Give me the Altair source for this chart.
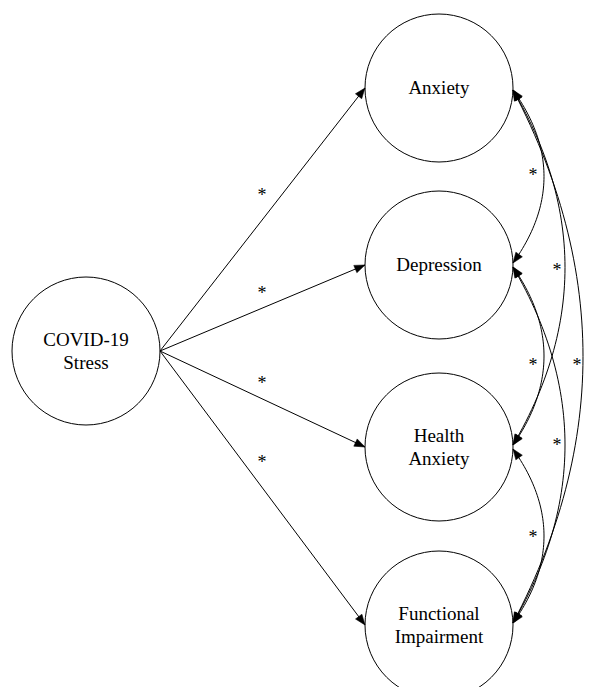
import math
import altair as alt
import pandas as pd

# ---- diagram content ----
source_label = ["COVID-19", "Stress"]
source_pos = (86, 351)
outcome_labels = [["Anxiety"], ["Depression"], ["Health", "Anxiety"], ["Functional", "Impairment"]]
outcome_x = 439
outcome_y = [88, 265, 447, 625]
node_radius = 74

# regression path significance markers
path_star_text = ["*", "*", "*", "*"]
path_star_x = [262, 262, 262, 262]
path_star_y = [193, 291, 381, 460]

# covariances: (from, to, curve apex x, star x, star y)
cov_from = [0, 1, 2, 0, 1, 0]
cov_to = [1, 2, 3, 2, 3, 3]
cov_apex = [544, 544, 544, 565, 565, 583]
cov_star_x = [533, 533, 533, 557, 557, 577]
cov_star_y = [173, 363, 535, 268, 443, 363]

FONT = "Liberation Serif"
LINE_H = 23
XDOM = [8, 584]
YDOM = [8, 687]

# ---- build tables ----
node_x = [source_pos[0]] + [outcome_x] * 4
node_y = [source_pos[1]] + outcome_y
node_lbl = [source_label] + outcome_labels
nodes = pd.DataFrame({"x": node_x, "y": node_y})

text_rows = []
for x, y, parts in zip(node_x, node_y, node_lbl):
    n = len(parts)
    for i, p in enumerate(parts):
        text_rows.append({"x": x, "y": y + (i - (n - 1) / 2) * LINE_H, "label": p})
texts = pd.DataFrame(text_rows)

lines = []
heads = []

def head_angle(dx, dy):
    return math.degrees(math.atan2(dx, -dy)) % 360

sx = source_pos[0] + node_radius
sy = source_pos[1]
tx = outcome_x - node_radius
for i, cy in enumerate(outcome_y):
    lines.append({"id": f"p{i}", "o": 0, "x": sx, "y": sy})
    lines.append({"id": f"p{i}", "o": 1, "x": tx, "y": cy})
    heads.append({"x": tx, "y": cy, "ang": head_angle(tx - sx, cy - sy)})

rx = outcome_x + node_radius
for k, (a, b, apex) in enumerate(zip(cov_from, cov_to, cov_apex)):
    y0 = outcome_y[a] + 2
    y2 = outcome_y[b] - 2
    cxp = 2 * apex - rx
    cyp = (y0 + y2) / 2
    n = 60
    for j in range(n + 1):
        t = j / n
        x = (1 - t) ** 2 * rx + 2 * t * (1 - t) * cxp + t ** 2 * rx
        y = (1 - t) ** 2 * y0 + 2 * t * (1 - t) * cyp + t ** 2 * y2
        lines.append({"id": f"c{k}", "o": j, "x": x, "y": y})
    heads.append({"x": rx, "y": y0, "ang": head_angle(rx - cxp, y0 - cyp)})
    heads.append({"x": rx, "y": y2, "ang": head_angle(rx - cxp, y2 - cyp)})

lines = pd.DataFrame(lines)
heads = pd.DataFrame(heads)
stars = pd.DataFrame({
    "t": path_star_text + ["*"] * len(cov_star_x),
    "x": path_star_x + cov_star_x,
    "y": path_star_y + cov_star_y,
})

X = lambda: alt.X("x:Q", scale=alt.Scale(domain=XDOM), axis=None)
Y = lambda: alt.Y("y:Q", scale=alt.Scale(domain=YDOM, reverse=True), axis=None)

circles = alt.Chart(nodes).mark_point(
    shape="circle", size=(2 * node_radius) ** 2, filled=True,
    fill="white", stroke="black", strokeWidth=1, opacity=1
).encode(x=X(), y=Y())

edges = alt.Chart(lines).mark_line(color="black", strokeWidth=1).encode(
    x=X(), y=Y(), detail="id:N", order="o:Q"
)

arrowheads = alt.Chart(heads).mark_point(
    shape="M0,0 L-0.38,1 L0.38,1 Z", size=440, filled=True,
    fill="black", stroke="black", strokeWidth=0.5, opacity=1
).encode(x=X(), y=Y(), angle=alt.Angle("ang:Q", scale=None))

labels = alt.Chart(texts).mark_text(
    font=FONT, fontSize=19, color="black", align="center", baseline="middle"
).encode(x=X(), y=Y(), text="label:N")

star_text = alt.Chart(stars).mark_text(
    font=FONT, fontSize=18, color="black", align="center", baseline="middle", dy=3
).encode(x=X(), y=Y(), text="t:N")

chart = alt.layer(circles, edges, arrowheads, labels, star_text).properties(
    width=576, height=679, padding=0,
    autosize=alt.AutoSizeParams(type="none"),
    view=alt.ViewConfig(stroke=None, strokeWidth=0),
).configure_view(stroke=None, strokeWidth=0).configure(background="white")

chart.save("out.html", embed_options={"renderer": "svg", "actions": False})
